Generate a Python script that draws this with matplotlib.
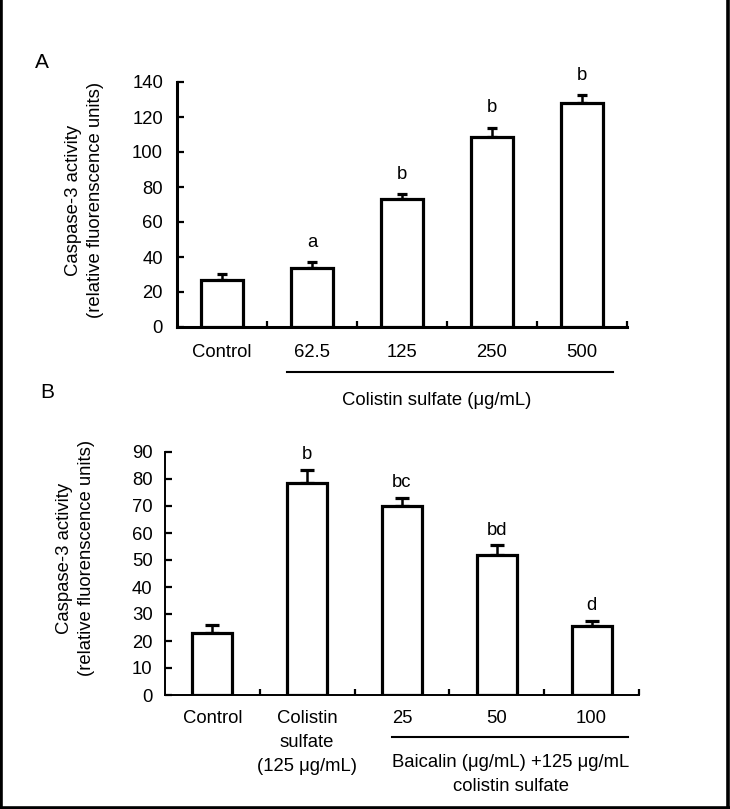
import matplotlib
matplotlib.use('Agg')
import matplotlib.pyplot as plt
import matplotlib.transforms as mtransforms
from matplotlib.lines import Line2D

plt.rcParams['font.family'] = ['Liberation Sans', 'DejaVu Sans']
plt.rcParams['font.size'] = 13.3

# panel A: colistin sulfate dose response
a_labels = ['Control', '62.5', '125', '250', '500']
a_means = [27, 33.5, 73, 108.5, 128]
a_err = [3.5, 3.5, 3, 5.5, 4.5]
a_letters = ['', 'a', 'b', 'b', 'b']

# panel B: baicalin + 125 ug/mL colistin sulfate
b_labels = ['Control', 'Colistin\nsulfate\n(125 μg/mL)', '25', '50', '100']
b_means = [23, 78.5, 70, 52, 25.5]
b_err = [3, 5, 3, 3.5, 2]
b_letters = ['', 'b', 'bc', 'bd', 'd']

ylabel = 'Caspase-3 activity\n(relative fluorenscence units)'

W, H = 730, 809
fig = plt.figure(figsize=(W / 100, H / 100), dpi=100)


def px_axes(x0, y0, x1, y1):
    """Axes from pixel box (top-left origin)."""
    return fig.add_axes([x0 / W, 1 - y1 / H, (x1 - x0) / W, (y1 - y0) / H])


def draw_panel(ax, labels, means, errs, letters, ymax, ystep, width,
               spine_lw, cap, letter_off, xpad, ypad):
    x = list(range(len(labels)))
    ax.bar(x, means, width, color='white', edgecolor='black', linewidth=2.3, zorder=3)
    ax.errorbar(x, means, yerr=[[0] * len(errs), errs], fmt='none', ecolor='black',
                elinewidth=1.8, capsize=cap, capthick=2.3, zorder=2)
    for xi, m, e, t in zip(x, means, errs, letters):
        if t:
            ax.annotate(t, (xi, m + e), xytext=(0, letter_off), textcoords='offset points',
                        ha='center', va='baseline')

    ax.set_xlim(-0.5, len(labels) - 0.5)
    ax.set_ylim(0, ymax)
    ax.set_yticks(range(0, ymax + 1, ystep))
    ax.set_xticks(x, labels)
    ax.set_xticks([i + 0.5 for i in x], minor=True)
    ax.tick_params(axis='y', direction='in', length=5, width=1.6, pad=ypad)
    ax.tick_params(axis='x', which='major', length=0, pad=xpad)
    ax.tick_params(axis='x', which='minor', direction='in', length=4, width=1.6)
    for s in ['top', 'right']:
        ax.spines[s].set_visible(False)
    for s in ['left', 'bottom']:
        ax.spines[s].set_linewidth(spine_lw)
    ax.patch.set_alpha(0)


axA = px_axes(177, 82, 627, 327)
draw_panel(axA, a_labels, a_means, a_err, a_letters, 140, 20, 0.46,
           2.2, 3.5, 11, 12, 10)

axB = px_axes(165, 452, 639, 695)
draw_panel(axB, b_labels, b_means, b_err, b_letters, 90, 10, 0.42,
           1.4, 5, 7.5, 10.5, 9)
axB.get_xticklabels()[1].set_linespacing(1.55)

# group underlines and captions
trA = mtransforms.blended_transform_factory(axA.transData, axA.transAxes)
axA.add_line(Line2D([0.72, 4.34], [-0.184, -0.184], transform=trA, color='black',
                    lw=1.5, clip_on=False))
axA.text(2.39, -0.298, 'Colistin sulfate (μg/mL)', transform=trA, ha='center', va='center')

trB = mtransforms.blended_transform_factory(axB.transData, axB.transAxes)
axB.add_line(Line2D([1.89, 4.38], [-0.173, -0.173], transform=trB, color='black',
                    lw=1.5, clip_on=False))
axB.text(3.15, -0.327, 'Baicalin (μg/mL) +125 μg/mL\ncolistin sulfate', transform=trB,
         ha='center', va='center', linespacing=1.5)

# y labels and panel letters
fig.text(84.5 / W, 1 - 200 / H, ylabel, rotation=90, ha='center', va='center',
         multialignment='center', linespacing=1.35)
fig.text(75.5 / W, 1 - 558 / H, ylabel, rotation=90, ha='center', va='center',
         multialignment='center', linespacing=1.35)
fig.text(42 / W, 1 - 63 / H, 'A', ha='center', va='center', fontsize=15)
fig.text(47 / W, 1 - 393 / H, 'B', ha='center', va='center', fontsize=15)

# outer frame
for xs, ys in [([1.5, 1.5], [0, 807.5]), ([728, 728], [0, 807.5]), ([0, 730], [807.5, 807.5])]:
    fig.add_artist(Line2D([v / W for v in xs], [1 - v / H for v in ys],
                          transform=fig.transFigure, color='black', lw=2.6))

fig.savefig('out.png', dpi=100)
